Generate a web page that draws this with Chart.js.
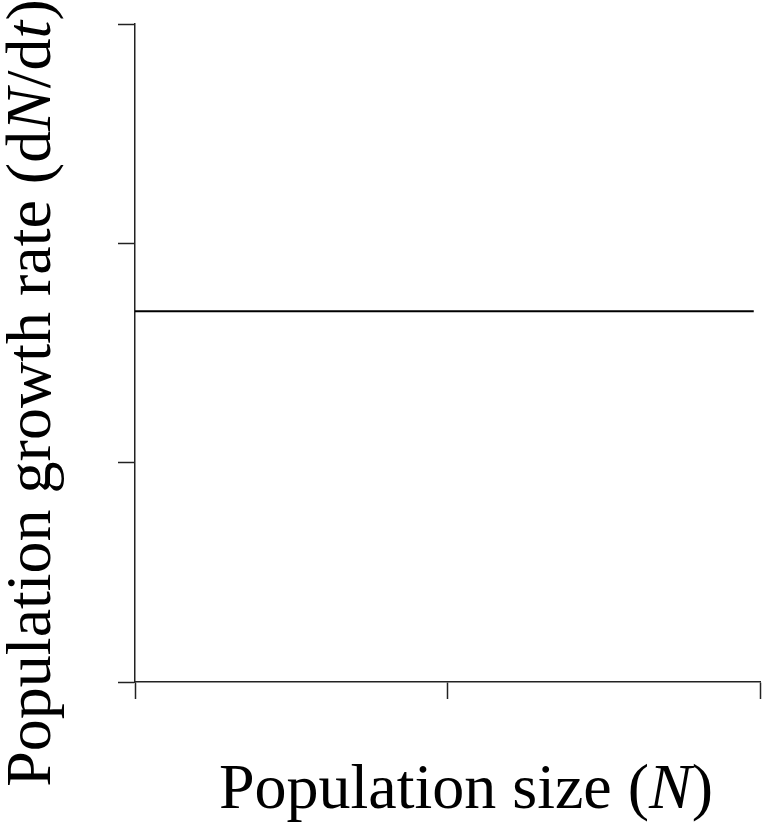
<!DOCTYPE html>
<html>
<head>
<meta charset="utf-8">
<script src="https://cdn.jsdelivr.net/npm/chart.js@4.4.1/dist/chart.umd.min.js"></script>
<style>
  html, body { margin: 0; padding: 0; background: #fff; }
  #wrap { width: 764px; height: 833px; position: relative; }
</style>
</head>
<body>
<div id="wrap"><canvas id="chart" width="764" height="833"></canvas></div>
<script>
// Exponential-growth-rate sketch: dN/dt stays constant as N rises.
const populationSize = [0, 1.98];
const growthRate = [1.69, 1.69];
const xTicks = [0, 1, 2];
const yTicks = [0, 1, 2, 3];

// Axis titles as runs of [text, italic?]
const xTitleRuns = [['Population size (', false], ['N', true], [')', false]];
const yTitleRuns = [['Population growth rate (d', false], ['N', true], ['/d', false], ['t', true], [')', false]];

const FONT_FAMILY = '"Liberation Serif", "Times New Roman", serif';
const FONT_SIZE = 64;

function runFont(italic) {
  return (italic ? 'italic ' : '') + FONT_SIZE + 'px ' + FONT_FAMILY;
}
function runsWidth(ctx, runs) {
  let w = 0;
  for (const [t, it] of runs) { ctx.font = runFont(it); w += ctx.measureText(t).width; }
  return w;
}
function drawRuns(ctx, runs, cx, baseline) {
  let x = cx - runsWidth(ctx, runs) / 2;
  ctx.textBaseline = 'alphabetic';
  ctx.textAlign = 'left';
  for (const [t, it] of runs) {
    ctx.font = runFont(it);
    ctx.fillText(t, x, baseline);
    x += ctx.measureText(t).width;
  }
}

const axisTitles = {
  id: 'axisTitles',
  afterDraw(chart) {
    const ctx = chart.ctx;
    const area = chart.chartArea;
    ctx.save();
    ctx.fillStyle = '#000';
    drawRuns(ctx, xTitleRuns, 466, 808);
    ctx.translate(50, 393);
    ctx.rotate(-Math.PI / 2);
    drawRuns(ctx, yTitleRuns, 0, 0);
    ctx.restore();
  }
};

const axisColor = '#222';

new Chart(document.getElementById('chart'), {
  type: 'scatter',
  data: {
    datasets: [{
      data: populationSize.map((n, i) => ({ x: n, y: growthRate[i] })),
      showLine: true,
      borderColor: '#000',
      borderWidth: 2,
      pointRadius: 0,
      fill: false
    }]
  },
  options: {
    responsive: false,
    animation: false,
    events: [],
    layout: { padding: { left: 118, top: 24, right: 4, bottom: 134 } },
    plugins: { legend: { display: false }, tooltip: { enabled: false } },
    scales: {
      x: {
        type: 'linear',
        min: xTicks[0],
        max: xTicks[xTicks.length - 1],
        afterBuildTicks: s => { s.ticks = xTicks.map(v => ({ value: v })); },
        afterFit: s => { s.height = 17; },
        ticks: { display: false },
        grid: { drawOnChartArea: false, drawTicks: true, tickLength: 17, tickColor: axisColor, tickWidth: 1.5 },
        border: { display: true, color: axisColor, width: 1.5 }
      },
      y: {
        type: 'linear',
        min: yTicks[0],
        max: yTicks[yTicks.length - 1],
        afterBuildTicks: s => { s.ticks = yTicks.map(v => ({ value: v })); },
        afterFit: s => { s.width = 17; },
        ticks: { display: false },
        grid: { drawOnChartArea: false, drawTicks: true, tickLength: 17, tickColor: axisColor, tickWidth: 1.5 },
        border: { display: true, color: axisColor, width: 1.5 }
      }
    }
  },
  plugins: [axisTitles]
});
</script>
</body>
</html>
